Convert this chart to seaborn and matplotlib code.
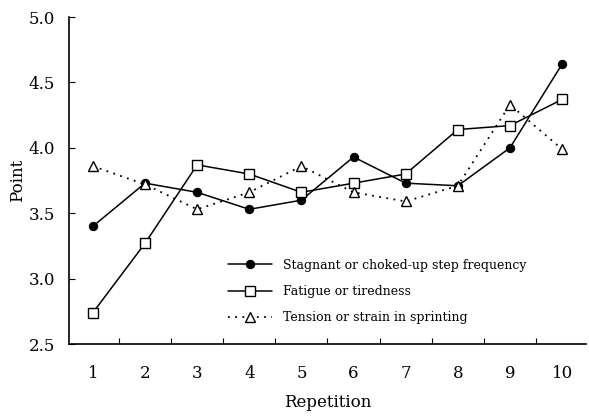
# %%
import numpy as np
import pandas as pd
import seaborn as sns
from matplotlib import pyplot as plt
from matplotlib.ticker import FixedLocator, NullFormatter

# %%
repetition = [1, 2, 3, 4, 5, 6, 7, 8, 9, 10]
stagnant = [3.40, 3.73, 3.66, 3.53, 3.60, 3.93, 3.73, 3.71, 4.00, 4.64]
fatigue = [2.74, 3.27, 3.87, 3.80, 3.66, 3.73, 3.80, 4.14, 4.17, 4.37]
tension = [3.86, 3.72, 3.53, 3.66, 3.86, 3.66, 3.59, 3.71, 4.33, 3.99]

labels = [
    "Stagnant or choked-up step frequency",
    "Fatigue or tiredness",
    "Tension or strain in sprinting",
]

# %%
sns.set_style("ticks")
plt.rcParams["font.family"] = ["DejaVu Serif"]
plt.rcParams["text.color"] = "black"
plt.rcParams["axes.labelcolor"] = "black"
plt.rcParams["xtick.color"] = "black"
plt.rcParams["ytick.color"] = "black"

fig = plt.figure(figsize=(5.89, 4.16), dpi=100)
ax = fig.add_axes([0.117, 0.173, 0.878, 0.786])

df = pd.DataFrame({"Repetition": repetition, "s": stagnant, "f": fatigue, "t": tension})

# Stagnant: filled circles, solid line
sns.lineplot(data=df, x="Repetition", y="s", ax=ax, color="black", lw=1.1,
             marker="o", markersize=6, markerfacecolor="black",
             markeredgecolor="black", label=labels[0], zorder=3)
# Fatigue: open squares, solid line
sns.lineplot(data=df, x="Repetition", y="f", ax=ax, color="black", lw=1.1,
             marker="s", markersize=7, markerfacecolor="white",
             markeredgecolor="black", markeredgewidth=1.0, label=labels[1], zorder=4)
# Tension: open triangles, dotted line
sns.lineplot(data=df, x="Repetition", y="t", ax=ax, color="black", lw=1.3,
             linestyle=(0, (1, 3)), marker="^", markersize=7,
             markerfacecolor="white", markeredgecolor="black",
             markeredgewidth=1.0, label=labels[2], zorder=5)

ax.set_xlim(0.54, 10.46)
ax.set_ylim(2.5, 5.0)

# integer labels without ticks, tick marks between repetitions
ax.set_xticks(repetition)
ax.set_xticklabels([str(r) for r in repetition])
ax.tick_params(axis="x", which="major", length=0, labelsize=12, pad=15)
ax.xaxis.set_minor_locator(FixedLocator(np.arange(1.5, 10, 1)))
ax.xaxis.set_minor_formatter(NullFormatter())
ax.tick_params(axis="x", which="minor", direction="in", length=4, width=0.8)

ax.set_yticks([2.5, 3.0, 3.5, 4.0, 4.5, 5.0])
ax.set_yticklabels(["2.5", "3.0", "3.5", "4.0", "4.5", "5.0"])
ax.tick_params(axis="y", direction="in", length=4, width=0.8, labelsize=12, pad=10)

for side in ["top", "right"]:
    ax.spines[side].set_visible(False)
for side in ["left", "bottom"]:
    ax.spines[side].set_linewidth(1.2)
    ax.spines[side].set_color("black")

ax.set_xlabel("Repetition", fontsize=12, labelpad=9)
ax.set_ylabel("Point", fontsize=12, labelpad=2)

ax.legend(loc="upper left", bbox_to_anchor=(0.286, 0.295), frameon=False,
          fontsize=9, handlelength=3.5, handletextpad=0.9, labelspacing=1.05)

plt.savefig("out.png", dpi=100)
